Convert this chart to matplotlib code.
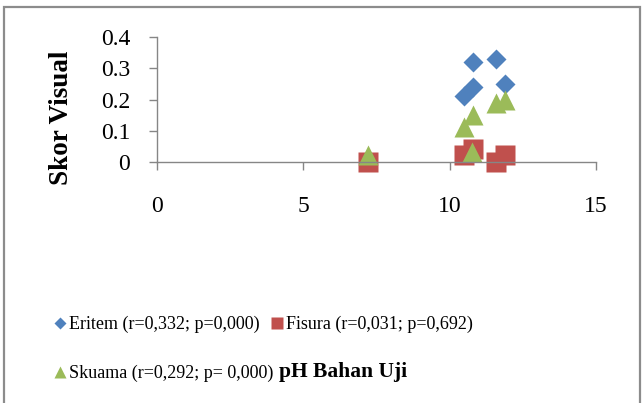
import matplotlib.pyplot as plt
from matplotlib.lines import Line2D
from matplotlib.patches import Rectangle

# data
ph_eritem = [10.5, 10.8, 10.8, 11.6, 11.9]
skor_eritem = [0.21, 0.24, 0.32, 0.33, 0.25]

ph_fisura = [7.2, 10.5, 10.8, 11.6, 11.9]
skor_fisura = [0.0, 0.02, 0.04, 0.0, 0.02]

ph_skuama = [7.2, 10.5, 10.8, 10.75, 11.6, 11.9]
skor_skuama = [0.02, 0.11, 0.15, 0.03, 0.19, 0.20]

label_eritem = 'Eritem (r=0,332; p=0,000)'
label_fisura = 'Fisura (r=0,031; p=0,692)'
label_skuama = 'Skuama (r=0,292; p= 0,000)'

xticks = [0, 5, 10, 15]
yticks = [0, 0.1, 0.2, 0.3, 0.4]
ytick_labels = ['0', '0.1', '0.2', '0.3', '0.4']

biru = '#4F81BD'
merah = '#C0504D'
hijau = '#9BBB59'
abu = '#868686'

plt.rcParams['font.family'] = ['Liberation Serif', 'DejaVu Serif']

W, H = 643, 403
fig = plt.figure(figsize=(W / 100, H / 100), dpi=100)
ax = fig.add_axes([156.7 / W, 1 - 161.7 / H, (596 - 156.7) / W, (161.7 - 37.3) / H])

ax.plot(ph_eritem, skor_eritem, 'D', color=biru, markersize=10.5, mec='none', clip_on=False)
ax.plot(ph_fisura, skor_fisura, 's', color=merah, markersize=14.5, mec='none', clip_on=False)
ax.plot(ph_skuama, skor_skuama, '^', color=hijau, markersize=14.5, mec='none', clip_on=False)

ax.set_xlim(0, 15)
ax.set_ylim(0, 0.4)
ax.set_xticks(xticks)
ax.set_yticks(yticks)
ax.set_yticklabels(ytick_labels)
for s in ['top', 'right']:
    ax.spines[s].set_visible(False)
for s in ['left', 'bottom']:
    ax.spines[s].set_color(abu)
    ax.spines[s].set_linewidth(1.0)
ax.tick_params(axis='both', colors=abu, length=6, width=1.0, labelcolor='black', labelsize=17)
ax.tick_params(axis='x', pad=19)
ax.tick_params(axis='y', pad=13)

# judul sumbu
fig.text(62 / W, 1 - 118 / H, 'Skor Visual', rotation=90, ha='center', va='center',
         fontsize=19.5, fontweight='bold')
fig.text(279 / W, 1 - 372 / H, 'pH Bahan Uji', ha='left', va='center',
         fontsize=15.5, fontweight='bold')

handles = [
    Line2D([], [], marker='D', ls='none', color=biru, markersize=6, mec='none'),
    Line2D([], [], marker='^', ls='none', color=hijau, markersize=8, mec='none'),
    Line2D([], [], marker='s', ls='none', color=merah, markersize=8, mec='none'),
]
fig.legend(handles, [label_eritem, label_skuama, label_fisura], ncol=2,
           loc='upper left', bbox_to_anchor=(55 / W, 1 - 316 / H),
           frameon=False, fontsize=13, handlelength=0.6, handletextpad=0.2,
           columnspacing=-0.15, labelspacing=1.75, borderaxespad=0, borderpad=0)

# bingkai luar
fig.patches.append(Rectangle((4 / W, -0.05), 636 / W, 1.05 - 7 / H, transform=fig.transFigure,
                             fill=False, edgecolor='#8C8C8C', linewidth=1.6))

fig.savefig('out.png', dpi=100)
